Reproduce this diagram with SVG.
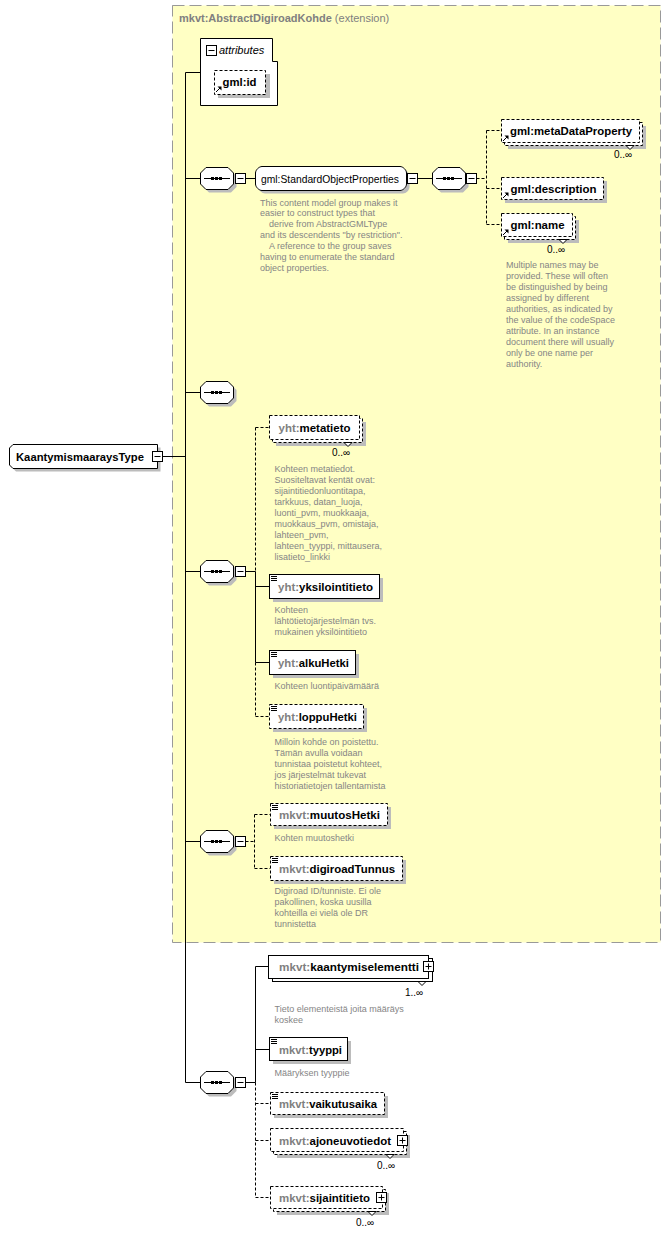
<svg xmlns="http://www.w3.org/2000/svg" width="671" height="1235" viewBox="0 0 671 1235">
<style>
text{font-family:"Liberation Sans",Arial,sans-serif}
.nm{font-size:11px;font-weight:bold;fill:#000}
.pf{font-weight:bold;fill:#808080}
.ds{font-size:9px;fill:#858585}
.oc{font-size:10px;fill:#000}
.ln{stroke:#000;fill:none}
.dl{stroke:#000;fill:none;stroke-dasharray:3,2}
.bx{fill:#fff;stroke:#000}
.bd{fill:#fff;stroke:#000;stroke-dasharray:3,2}
.sh{fill:#bcbcbc}
</style>
<defs>
<g id="seq">
<polygon class="sh" points="9,-8 31,-8 36.5,-2.5 36.5,8.5 31,14 9,14 3.5,8.5 3.5,-2.5"/>
<polygon class="bx" points="6,-11 28,-11 33.5,-5.5 33.5,5.5 28,11 6,11 0.5,5.5 0.5,-5.5"/>
<line class="ln" x1="4" y1="0" x2="30" y2="0"/>
<rect x="11" y="-1.5" width="3" height="3"/><rect x="15" y="-1.5" width="3" height="3"/><rect x="19" y="-1.5" width="3" height="3"/>
</g>
<g id="mn"><rect class="bx" x="-5" y="-5" width="10" height="10"/><line class="ln" x1="-3" y1="0" x2="3" y2="0"/></g>
<g id="pl"><rect class="bx" x="-5" y="-5" width="10" height="10"/><path class="ln" d="M-3,0H3M0,-3V3"/></g>
<g id="ref"><path class="ln" d="M0,0L4.5,-4.5"/><polygon points="1.5,-5.5 5.5,-5.5 5.5,-1.5"/></g>
<g id="lst"><path class="ln" d="M0,0.5H6M0,2.5H6M0,4.5H6"/></g>
</defs>

<g id="extension">
<rect x="172.5" y="5.5" width="488" height="937" fill="#ffffc4" stroke="#999" stroke-dasharray="12,5"/>
<text x="179" y="22" style="font-size:11px"><tspan font-weight="bold" fill="#808080">mkvt:AbstractDigiroadKohde</tspan><tspan fill="#808080"> (extension)</tspan></text>
</g>

<g id="connectors">
<path class="ln" d="M185.5,72.5V1082.5M162.5,456.5H185.5M185.5,72.5H200.5"/>
<path class="ln" d="M185.5,178.5H200.5M233.5,178.5H235.5M245.5,178.5H255.5M417.5,178.5H432.5M465.5,178.5H466.5"/>
<path class="dl" d="M476.5,178.5H486.5M486.5,130.5V224.5M486.5,130.5H501.5M486.5,188.5H501.5M486.5,224.5H501.5"/>
<path class="ln" d="M185.5,392.5H200.5"/>
<path class="ln" d="M185.5,571.5H200.5M233.5,571.5H235.5M245.5,571.5H255.5M255.5,571.5V662.5M255.5,586.5H269.5M255.5,662.5H269.5"/>
<path class="dl" d="M255.5,427.5V571.5M255.5,427.5H269.5M255.5,662.5V716.5M255.5,716.5H269.5"/>
<path class="ln" d="M185.5,841.5H200.5M233.5,841.5H235.5"/>
<path class="dl" d="M245.5,841.5H254.5M254.5,814.5V868.5M254.5,814.5H270.5M254.5,868.5H270.5"/>
<path class="ln" d="M185.5,1082.5H200.5M233.5,1082.5H235.5M245.5,1082.5H255.5M255.5,966.5V1082.5M255.5,966.5H268.5M255.5,1049.5H269.5"/>
<path class="dl" d="M255.5,1082.5V1197.5M255.5,1103.5H270.5M255.5,1140.5H270.5M255.5,1197.5H270.5"/>
</g>

<g id="root">
<path class="sh" d="M16,447.5H160.5V471.5H16L12.5,468V451Z"/>
<path class="bx" d="M13,444.5H157.5V468.5H13L9.5,465V448Z"/>
<text class="nm" x="16" y="460.5" textLength="128" lengthAdjust="spacingAndGlyphs">KaantymismaaraysType</text>
<use href="#mn" x="157.5" y="456.5"/>
</g>

<g id="attributes">
<path class="bx" d="M200.5,38.5H272.5V61.5H277.5V105.5H200.5Z"/>
<use href="#mn" x="211.5" y="50.5"/>
<text x="219" y="54" style="font-size:11px;font-style:italic">attributes</text>
</g>
<g id="gml-id">
<rect class="sh" x="218" y="74" width="52" height="24"/>
<rect class="bd" x="214.5" y="70.5" width="51" height="24"/>
<use href="#ref" x="216" y="92"/>
<text class="nm" x="222.5" y="86" textLength="34" lengthAdjust="spacingAndGlyphs">gml:id</text>
</g>

<g id="seq1"><use href="#seq" x="200" y="178.5"/><use href="#mn" x="240.5" y="178.5"/></g>
<g id="StandardObjectProperties">
<path class="sh" d="M265,169.5H403C406,169.5 409.5,173 409.5,176V187C409.5,190 406,193.5 403,193.5H265C262,193.5 258.5,190 258.5,187V176C258.5,173 262,169.5 265,169.5Z"/>
<path class="bx" d="M262,166.5H400C403,166.5 406.5,170 406.5,173V184C406.5,187 403,190.5 400,190.5H262C259,190.5 255.5,187 255.5,184V173C255.5,170 259,166.5 262,166.5Z"/>
<text x="261" y="182.5" style="font-size:11px" textLength="138" lengthAdjust="spacingAndGlyphs">gml:StandardObjectProperties</text>
<use href="#mn" x="412.5" y="178.5"/>
<text class="ds"><tspan x="260" y="205.5">This content model group makes it</tspan><tspan x="260" y="216.4">easier to construct types that</tspan><tspan x="269" y="227.3">derive from AbstractGMLType</tspan><tspan x="260" y="238.2">and its descendents "by restriction".</tspan><tspan x="269" y="249.1">A reference to the group saves</tspan><tspan x="260" y="260">having to enumerate the standard</tspan><tspan x="260" y="270.9">object properties.</tspan></text>
</g>
<g id="seq1b"><use href="#seq" x="432" y="178.5"/><use href="#mn" x="471.5" y="178.5"/></g>

<g id="metaDataProperty">
<rect class="sh" x="508" y="126" width="138" height="23"/>
<rect class="bd" x="504.5" y="122.5" width="138" height="23"/>
<polygon class="bx" points="626,145.5 630,149.5 634,145.5"/>
<rect class="bd" x="501.5" y="119.5" width="138" height="23"/>
<use href="#ref" x="503" y="141"/>
<text class="nm" x="510" y="135" textLength="122" lengthAdjust="spacingAndGlyphs">gml:metaDataProperty</text>
<text class="oc" x="614" y="158">0..∞</text>
</g>
<g id="description">
<rect class="sh" x="505" y="181" width="102" height="22"/>
<rect class="bd" x="501.5" y="177.5" width="102" height="22"/>
<use href="#ref" x="503" y="198"/>
<text class="nm" x="510.5" y="192.5" textLength="86" lengthAdjust="spacingAndGlyphs">gml:description</text>
</g>
<g id="name">
<rect class="sh" x="508" y="220" width="71" height="23"/>
<rect class="bd" x="504.5" y="216.5" width="71" height="23"/>
<polygon class="bx" points="559,239.5 563,243.5 567,239.5"/>
<rect class="bd" x="501.5" y="213.5" width="71" height="23"/>
<use href="#ref" x="503" y="235"/>
<text class="nm" x="510.5" y="229" textLength="54" lengthAdjust="spacingAndGlyphs">gml:name</text>
<text class="oc" x="547" y="253">0..∞</text>
<text class="ds"><tspan x="506" y="268">Multiple names may be</tspan><tspan x="506" y="279">provided.  These will often</tspan><tspan x="506" y="290">be distinguished by being</tspan><tspan x="506" y="301">assigned by different</tspan><tspan x="506" y="312">authorities, as indicated by</tspan><tspan x="506" y="323">the value of the codeSpace</tspan><tspan x="506" y="334">attribute.  In an instance</tspan><tspan x="506" y="345">document there will usually</tspan><tspan x="506" y="356">only be one name per</tspan><tspan x="506" y="367">authority.</tspan></text>
</g>

<g id="seq2"><use href="#seq" x="200" y="392.5"/></g>

<g id="seq3"><use href="#seq" x="200" y="571.5"/><use href="#mn" x="240.5" y="571.5"/></g>
<g id="metatieto">
<rect class="sh" x="276" y="422" width="90" height="24"/>
<rect class="bd" x="272.5" y="418.5" width="90" height="24"/>
<polygon class="bx" points="344,442.5 348,446.5 352,442.5"/>
<rect class="bd" x="269.5" y="415.5" width="90" height="24"/>
<text class="nm" x="278.5" y="431.5" textLength="72" lengthAdjust="spacingAndGlyphs"><tspan class="pf">yht:</tspan>metatieto</text>
<text class="oc" x="332" y="456">0..∞</text>
<text class="ds"><tspan x="274.5" y="472">Kohteen metatiedot.</tspan><tspan x="274.5" y="483">Suositeltavat kentät ovat:</tspan><tspan x="274.5" y="494">sijaintitiedonluontitapa,</tspan><tspan x="274.5" y="505">tarkkuus, datan_luoja,</tspan><tspan x="274.5" y="516">luonti_pvm, muokkaaja,</tspan><tspan x="274.5" y="527">muokkaus_pvm, omistaja,</tspan><tspan x="274.5" y="538">lahteen_pvm,</tspan><tspan x="274.5" y="549">lahteen_tyyppi, mittausera,</tspan><tspan x="274.5" y="560">lisatieto_linkki</tspan></text>
</g>
<g id="yksilointitieto">
<rect class="sh" x="273" y="578" width="110" height="24"/>
<rect class="bx" x="269.5" y="574.5" width="110" height="24"/>
<use href="#lst" x="271" y="576"/>
<text class="nm" x="278" y="590.5" textLength="95" lengthAdjust="spacingAndGlyphs"><tspan class="pf">yht:</tspan>yksilointitieto</text>
<text class="ds"><tspan x="274.5" y="613">Kohteen</tspan><tspan x="274.5" y="624">lähtötietojärjestelmän  tvs.</tspan><tspan x="274.5" y="635">mukainen yksilöintitieto</tspan></text>
</g>
<g id="alkuHetki">
<rect class="sh" x="273" y="654" width="86" height="24"/>
<rect class="bx" x="269.5" y="650.5" width="86" height="24"/>
<use href="#lst" x="271" y="652"/>
<text class="nm" x="278" y="666.5" textLength="71" lengthAdjust="spacingAndGlyphs"><tspan class="pf">yht:</tspan>alkuHetki</text>
<text class="ds" x="274.5" y="689">Kohteen luontipäivämäärä</text>
</g>
<g id="loppuHetki">
<rect class="sh" x="273" y="708" width="94" height="24"/>
<rect class="bd" x="269.5" y="704.5" width="94" height="24"/>
<use href="#lst" x="271" y="706"/>
<text class="nm" x="278" y="720.5" textLength="79" lengthAdjust="spacingAndGlyphs"><tspan class="pf">yht:</tspan>loppuHetki</text>
<text class="ds"><tspan x="274.5" y="745">Milloin kohde on poistettu.</tspan><tspan x="274.5" y="756">Tämän avulla voidaan</tspan><tspan x="274.5" y="767">tunnistaa poistetut kohteet,</tspan><tspan x="274.5" y="778">jos järjestelmät tukevat</tspan><tspan x="274.5" y="789">historiatietojen tallentamista</tspan></text>
</g>

<g id="seq4"><use href="#seq" x="200" y="841.5"/><use href="#mn" x="240.5" y="841.5"/></g>
<g id="muutosHetki">
<rect class="sh" x="274" y="807" width="117" height="22"/>
<rect class="bd" x="270.5" y="803.5" width="117" height="22"/>
<use href="#lst" x="272" y="805"/>
<text class="nm" x="279" y="819" textLength="101" lengthAdjust="spacingAndGlyphs"><tspan class="pf">mkvt:</tspan>muutosHetki</text>
<text class="ds" x="274.5" y="841">Kohten muutoshetki</text>
</g>
<g id="digiroadTunnus">
<rect class="sh" x="274" y="860" width="132" height="24"/>
<rect class="bd" x="270.5" y="856.5" width="132" height="24"/>
<use href="#lst" x="272" y="858"/>
<text class="nm" x="279" y="873" textLength="116" lengthAdjust="spacingAndGlyphs"><tspan class="pf">mkvt:</tspan>digiroadTunnus</text>
<text class="ds"><tspan x="274.5" y="894">Digiroad ID/tunniste. Ei ole</tspan><tspan x="274.5" y="905">pakollinen, koska uusilla</tspan><tspan x="274.5" y="916">kohteilla ei vielä ole DR</tspan><tspan x="274.5" y="927">tunnistetta</tspan></text>
</g>

<g id="seq5"><use href="#seq" x="200" y="1082.5"/><use href="#mn" x="240.5" y="1082.5"/></g>
<g id="kaantymiselementti">
<rect class="bx" x="272.5" y="958.5" width="160" height="23"/>
<polygon class="bx" points="418,981.5 422,985.5 426,981.5"/>
<rect class="bx" x="268.5" y="955.5" width="160" height="23"/>
<text class="nm" x="279" y="971" textLength="140" lengthAdjust="spacingAndGlyphs"><tspan class="pf">mkvt:</tspan>kaantymiselementti</text>
<use href="#pl" x="428.5" y="966.5"/>
<text class="oc" x="405" y="996">1..∞</text>
<text class="ds"><tspan x="274.5" y="1011.5">Tieto elementeistä joita määräys</tspan><tspan x="274.5" y="1022.5">koskee</tspan></text>
</g>
<g id="tyyppi">
<rect class="sh" x="273" y="1041" width="78" height="23"/>
<rect class="bx" x="269.5" y="1037.5" width="78" height="23"/>
<use href="#lst" x="271" y="1039"/>
<text class="nm" x="279" y="1054" textLength="63" lengthAdjust="spacingAndGlyphs"><tspan class="pf">mkvt:</tspan>tyyppi</text>
<text class="ds" x="274.5" y="1076">Määryksen tyyppie</text>
</g>
<g id="vaikutusaika">
<rect class="sh" x="274" y="1096" width="114" height="22"/>
<rect class="bd" x="270.5" y="1092.5" width="114" height="22"/>
<use href="#lst" x="272" y="1094"/>
<text class="nm" x="279" y="1107.5" textLength="98" lengthAdjust="spacingAndGlyphs"><tspan class="pf">mkvt:</tspan>vaikutusaika</text>
</g>
<g id="ajoneuvotiedot">
<rect class="sh" x="277" y="1135" width="133" height="23"/>
<rect class="bd" x="273.5" y="1131.5" width="133" height="23"/>
<polygon class="bx" points="386,1154.5 390,1158.5 394,1154.5"/>
<rect class="bd" x="270.5" y="1128.5" width="133" height="23"/>
<text class="nm" x="279" y="1145" textLength="112" lengthAdjust="spacingAndGlyphs"><tspan class="pf">mkvt:</tspan>ajoneuvotiedot</text>
<use href="#pl" x="402.5" y="1140.5"/>
<text class="oc" x="377" y="1169">0..∞</text>
</g>
<g id="sijaintitieto">
<rect class="sh" x="277" y="1193" width="112" height="22"/>
<rect class="bd" x="273.5" y="1189.5" width="112" height="22"/>
<polygon class="bx" points="368,1211.5 372,1215.5 376,1211.5"/>
<rect class="bd" x="270.5" y="1186.5" width="112" height="22"/>
<text class="nm" x="279" y="1201.5" textLength="91" lengthAdjust="spacingAndGlyphs"><tspan class="pf">mkvt:</tspan>sijaintitieto</text>
<use href="#pl" x="381.5" y="1197.5"/>
<text class="oc" x="356" y="1226">0..∞</text>
</g>
</svg>
